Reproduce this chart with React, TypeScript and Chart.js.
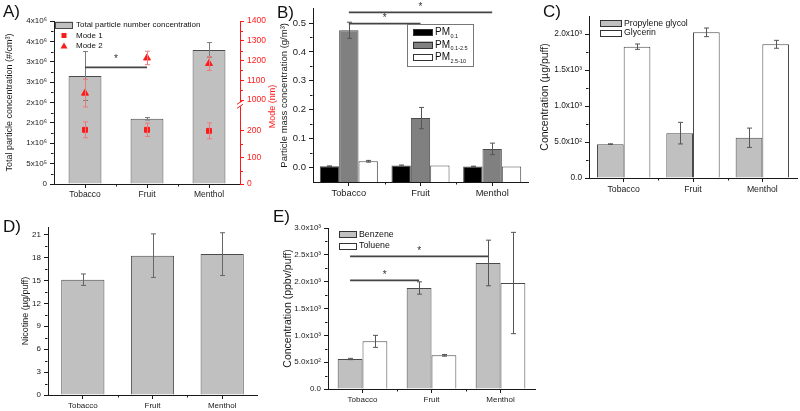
import React, { useEffect, useRef } from 'react';
import { Chart, registerables } from 'chart.js';
Chart.register(...registerables);

const FONT = '"Liberation Sans", Arial, sans-serif';
const GREY = '#c0c0c0';
const DARK = '#808080';
const EDGE = '#4a4a4a';
const RED = '#ff1a1a';
const AXIS = '#1a1a1a';

// ---------- shared ----------
const categories = ['Tobacco', 'Fruit', 'Menthol'];

// ---------- A ----------
const totalParticles = [2.65e6, 1.6e6, 3.29e6];
const totalParticlesErr = [0.6e6, 0.03e6, 0.18e6];
const mode1 = [204, 204, 200];
const mode1Err = [30, 25, 30];
const mode2 = [1035, 1213, 1185];
const mode2Err = [70, 34, 35];
const aLeftTickValues = [0, 5e5, 1e6, 1.5e6, 2e6, 2.5e6, 3e6, 3.5e6, 4e6];
const aLeftTickLabels = ['0', '5x10⁵', '1x10⁶', '2x10⁶', '2x10⁶', '3x10⁶', '3x10⁶', '4x10⁶', '4x10⁶'];
const aRightTicks = [0, 100, 200, 1000, 1100, 1200, 1300, 1400];
const aSig = [{ dataset: 0, from: 0, to: 1, y: 2.86e6 }];

// broken mode axis: 0-250 nm lower segment, 1000-1400 nm upper segment
const modeAxis = (v: number) => (v < 600 ? v : 316 + (v - 1000) * 0.744);

// ---------- B ----------
const pm01 = [0.003, 0.005, 0.002];
const pm01Err = [0.001, 0.002, 0.001];
const pm0125 = [0.475, 0.17, 0.063];
const pm0125Err = [0.028, 0.037, 0.02];
const pm2510 = [0.02, 0.005, 0.002];
const pm2510Err = [0.003, 0, 0];
const bMin = -0.052;
const bTickValues = [0, 0.1, 0.2, 0.3, 0.4, 0.5];
const bTickLabels = ['0.0', '0.1', '0.2', '0.3', '0.4', '0.5'];
const bSig = [
  { dataset: 1, from: 0, to: 2, y: 0.537 },
  { dataset: 1, from: 0, to: 1, y: 0.498 },
];

// ---------- C ----------
const propyleneGlycol = [470, 623, 559];
const propyleneGlycolErr = [5, 150, 134];
const glycerin = [1824, 2023, 1857];
const glycerinErr = [37, 60, 55];
const cTickValues = [0, 500, 1000, 1500, 2000];
const cTickLabels = ['0.0', '5.0x10²', '1.0x10³', '1.5x10³', '2.0x10³'];

// ---------- D ----------
const nicotine = [15.1, 18.25, 18.45];
const nicotineErr = [0.75, 2.85, 2.8];
const dTickValues = [0, 3, 6, 9, 12, 15, 18, 21];
const dTickLabels = ['0', '3', '6', '9', '12', '15', '18', '21'];

// ---------- E ----------
const benzene = [559, 1882, 2348];
const benzeneErr = [12, 115, 425];
const toluene = [888, 627, 1975];
const tolueneErr = [112, 15, 944];
const eTickValues = [0, 500, 1000, 1500, 2000, 2500, 3000];
const eTickLabels = ['0.0', '5.0x10²', '1.0x10³', '1.5x10³', '2.0x10³', '2.5x10³', '3.0x10³'];
const eSig = [
  { dataset: 0, from: 0, to: 2, y: 2472 },
  { dataset: 0, from: 0, to: 1, y: 2025 },
];

// ---------- helpers ----------
function yAxis(o: any) {
  const color = o.color || AXIS;
  return {
    type: 'linear',
    position: o.position || 'left',
    min: o.min,
    max: o.max,
    afterFit: (s: any) => {
      s.width = o.width;
    },
    afterBuildTicks: (s: any) => {
      s.ticks = o.values.map((v: number) => ({ value: v }));
    },
    ticks: {
      callback: (_v: any, i: number) => o.labels[i],
      font: { family: FONT, size: o.tickSize },
      color,
      padding: 3,
      autoSkip: false,
      maxRotation: 0,
    },
    grid: { display: true, drawOnChartArea: false, drawTicks: true, tickLength: 4, color, lineWidth: 1 },
    border: { display: true, color, width: 1 },
    title: o.title
      ? { display: true, text: o.title, font: { family: FONT, size: o.titleSize }, color, padding: { top: 4, bottom: 4 } }
      : { display: false },
  };
}

function xAxis(height: number, size: number) {
  return {
    type: 'category',
    offset: true,
    afterFit: (s: any) => {
      s.height = height;
    },
    grid: { display: true, drawOnChartArea: false, drawTicks: true, tickLength: 4, offset: false, color: AXIS },
    border: { display: true, color: AXIS, width: 1 },
    ticks: { font: { family: FONT, size }, color: AXIS, padding: 2, maxRotation: 0, autoSkip: false },
  };
}

function baseOptions(padding: any, scales: any) {
  return {
    responsive: false,
    animation: false,
    devicePixelRatio: 1,
    events: [],
    layout: { padding },
    plugins: { legend: { display: false }, tooltip: { enabled: false } },
    scales,
  };
}

const errorBars = {
  id: 'errorBars',
  afterDatasetDraw(chart: any, args: any) {
    const ds: any = chart.data.datasets[args.index];
    if (!ds.errors) return;
    const meta = args.meta;
    const ys = chart.scales[meta.yAxisID];
    const map = ds.mapY || ((v: number) => v);
    const ctx = chart.ctx as CanvasRenderingContext2D;
    ctx.save();
    ctx.strokeStyle = ds.errorColor || '#555';
    ctx.lineWidth = 1;
    meta.data.forEach((el: any, i: number) => {
      const v = ds.values ? ds.values[i] : ds.data[i];
      const e = ds.errors[i];
      if (!e) return;
      const x = Math.round(el.x) + 0.5;
      const yt = ys.getPixelForValue(map(v + e));
      const yb = ys.getPixelForValue(map(v - e));
      const c = 2.5;
      ctx.beginPath();
      ctx.moveTo(x, yt);
      ctx.lineTo(x, yb);
      ctx.moveTo(x - c, yt);
      ctx.lineTo(x + c, yt);
      ctx.moveTo(x - c, yb);
      ctx.lineTo(x + c, yb);
      ctx.stroke();
    });
    ctx.restore();
  },
};

const minorTicks = {
  id: 'minorTicks',
  afterDraw(chart: any) {
    const ctx = chart.ctx as CanvasRenderingContext2D;
    ctx.save();
    ctx.lineWidth = 1;
    Object.values(chart.scales).forEach((s: any) => {
      ctx.strokeStyle = s.options.border.color;
      if (s.axis === 'y') {
        const px = s.ticks.map((t: any) => s.getPixelForValue(t.value));
        const diffs = px.slice(1).map((p: number, i: number) => Math.abs(p - px[i]));
        const minD = Math.min(...diffs);
        const left = s.position === 'left';
        const xe = left ? Math.round(s.right) - 0.5 : Math.round(s.left) + 0.5;
        const dir = left ? -1 : 1;
        diffs.forEach((d: number, i: number) => {
          if (d > minD * 1.45) return;
          const y = Math.round((px[i] + px[i + 1]) / 2) + 0.5;
          ctx.beginPath();
          ctx.moveTo(xe, y);
          ctx.lineTo(xe + dir * 2.5, y);
          ctx.stroke();
        });
      } else {
        const n = chart.data.labels.length;
        for (let i = 0; i < n - 1; i++) {
          const x = Math.round((s.getPixelForValue(i) + s.getPixelForValue(i + 1)) / 2) + 0.5;
          ctx.beginPath();
          ctx.moveTo(x, s.top);
          ctx.lineTo(x, s.top + 2.5);
          ctx.stroke();
        }
      }
    });
    ctx.restore();
  },
};

function sigPlugin(lines: any[], starLift: number) {
  return {
    id: 'sig',
    afterDatasetsDraw(chart: any) {
      const ctx = chart.ctx as CanvasRenderingContext2D;
      const ys = chart.scales.y;
      ctx.save();
      lines.forEach((l) => {
        const meta = chart.getDatasetMeta(l.dataset);
        const x1 = meta.data[l.from].x;
        const x2 = meta.data[l.to].x;
        const y = ys.getPixelForValue(l.y);
        ctx.strokeStyle = '#444';
        ctx.lineWidth = 1.8;
        ctx.beginPath();
        ctx.moveTo(x1, y);
        ctx.lineTo(x2, y);
        ctx.stroke();
        ctx.fillStyle = '#333';
        ctx.font = `10px ${FONT}`;
        ctx.textAlign = 'center';
        ctx.textBaseline = 'alphabetic';
        ctx.fillText('*', (x1 + x2) / 2, y - starLift);
      });
      ctx.restore();
    },
  };
}

function legendPlugin(spec: any) {
  return {
    id: 'boxLegend',
    afterDraw(chart: any) {
      const ctx = chart.ctx as CanvasRenderingContext2D;
      ctx.save();
      if (spec.border) {
        const [bx, by, bw, bh] = spec.border;
        ctx.strokeStyle = '#777';
        ctx.lineWidth = 1;
        ctx.strokeRect(bx + 0.5, by + 0.5, bw, bh);
      }
      spec.items.forEach((it: any, i: number) => {
        const cy = spec.y + i * spec.rowH;
        const x = spec.x;
        const cx = x + spec.boxW / 2;
        if (it.kind === 'box') {
          ctx.fillStyle = it.fill;
          ctx.fillRect(x, cy - spec.boxH / 2, spec.boxW, spec.boxH);
          ctx.strokeStyle = it.stroke;
          ctx.lineWidth = 1;
          ctx.strokeRect(x + 0.5, Math.round(cy - spec.boxH / 2) + 0.5, spec.boxW - 1, spec.boxH - 1);
        } else if (it.kind === 'square') {
          ctx.fillStyle = it.fill;
          ctx.fillRect(cx - 2.5, cy - 2.5, 5, 5);
        } else if (it.kind === 'triangle') {
          ctx.fillStyle = it.fill;
          ctx.beginPath();
          ctx.moveTo(cx, cy - 3.5);
          ctx.lineTo(cx + 3.5, cy + 2.5);
          ctx.lineTo(cx - 3.5, cy + 2.5);
          ctx.closePath();
          ctx.fill();
        }
        ctx.fillStyle = '#111';
        ctx.font = `${spec.size}px ${FONT}`;
        ctx.textAlign = 'left';
        ctx.textBaseline = 'middle';
        const tx = x + spec.boxW + spec.gap;
        ctx.fillText(it.label, tx, cy);
        if (it.sub) {
          const w = ctx.measureText(it.label).width;
          ctx.font = `${spec.subSize}px ${FONT}`;
          ctx.fillText(it.sub, tx + w + 0.5, cy + spec.size * 0.38);
        }
      });
      ctx.restore();
    },
  };
}

const modeDecor = {
  id: 'modeDecor',
  afterDraw(chart: any) {
    const ctx = chart.ctx as CanvasRenderingContext2D;
    const { right, top, bottom } = chart.chartArea;
    const y1 = chart.scales.y1;
    const yb = y1.getPixelForValue(300);
    ctx.save();
    ctx.fillStyle = '#fff';
    ctx.fillRect(right - 1, yb - 2, 3, 4);
    ctx.strokeStyle = RED;
    ctx.lineWidth = 1;
    [-2, 2].forEach((dy) => {
      ctx.beginPath();
      ctx.moveTo(right - 3, yb + dy + 2);
      ctx.lineTo(right + 3, yb + dy - 2);
      ctx.stroke();
    });
    ctx.translate(273, (top + bottom) / 2 + 4);
    ctx.rotate(-Math.PI / 2);
    ctx.fillStyle = RED;
    ctx.font = `9px ${FONT}`;
    ctx.textAlign = 'center';
    ctx.textBaseline = 'middle';
    ctx.fillText('Mode (nm)', 0, 0);
    ctx.restore();
  },
};

// ---------- builders ----------
function buildA(): any {
  return {
    type: 'bar',
    data: {
      labels: categories,
      datasets: [
        {
          type: 'bar',
          label: 'Total particle number concentration',
          data: totalParticles,
          errors: totalParticlesErr,
          errorColor: '#7a7a7a',
          backgroundColor: GREY,
          borderColor: EDGE,
          borderWidth: 1,
          barPercentage: 0.53,
          categoryPercentage: 1,
          yAxisID: 'y',
          order: 3,
        },
        {
          type: 'line',
          label: 'Mode 1',
          data: mode1.map(modeAxis),
          values: mode1,
          errors: mode1Err,
          mapY: modeAxis,
          errorColor: '#f07a7a',
          showLine: false,
          pointStyle: 'rect',
          pointRadius: 3.5,
          backgroundColor: RED,
          borderColor: RED,
          yAxisID: 'y1',
          order: 1,
        },
        {
          type: 'line',
          label: 'Mode 2',
          data: mode2.map(modeAxis),
          values: mode2,
          errors: mode2Err,
          mapY: modeAxis,
          errorColor: '#f07a7a',
          showLine: false,
          pointStyle: 'triangle',
          pointRadius: 4,
          backgroundColor: RED,
          borderColor: RED,
          yAxisID: 'y1',
          order: 2,
        },
      ],
    },
    options: baseOptions(
      { top: 21, right: 0, bottom: 0, left: 0 },
      {
        x: xAxis(21, 8.5),
        y: yAxis({
          width: 54, min: 0, max: 4e6, values: aLeftTickValues, labels: aLeftTickLabels,
          tickSize: 8, title: 'Total particle concentration (#/cm³)', titleSize: 9,
        }),
        y1: yAxis({
          width: 43, position: 'right', min: 0, max: modeAxis(1400), values: aRightTicks.map(modeAxis),
          labels: aRightTicks.map(String), tickSize: 8.5, color: RED,
        }),
      }
    ),
    plugins: [
      errorBars,
      minorTicks,
      sigPlugin(aSig, 5),
      modeDecor,
      legendPlugin({
        x: 55, y: 25, rowH: 10.5, boxW: 18, boxH: 7, gap: 3, size: 8,
        items: [
          { label: 'Total particle number concentration', kind: 'box', fill: GREY, stroke: EDGE },
          { label: 'Mode 1', kind: 'square', fill: RED },
          { label: 'Mode 2', kind: 'triangle', fill: RED },
        ],
      }),
    ],
  };
}

function buildB(): any {
  const bar = (label: string, data: number[], errors: number[], fill: string) => ({
    label, data, errors, base: bMin, backgroundColor: fill, borderColor: EDGE, borderWidth: 1,
    barPercentage: 1, categoryPercentage: 0.81,
  });
  return {
    type: 'bar',
    data: {
      labels: categories,
      datasets: [
        bar('PM0.1', pm01, pm01Err, '#000'),
        bar('PM0.1-2.5', pm0125, pm0125Err, DARK),
        bar('PM2.5-10', pm2510, pm2510Err, '#fff'),
      ],
    },
    options: baseOptions(
      { top: 6, right: 8, bottom: 0, left: 0 },
      {
        x: xAxis(18, 9.3),
        y: yAxis({
          width: 38, min: bMin, max: 0.55, values: bTickValues, labels: bTickLabels,
          tickSize: 9.5, title: 'Particle mass concentration (g/m³)', titleSize: 9.5,
        }),
      }
    ),
    plugins: [
      errorBars,
      minorTicks,
      sigPlugin(bSig, 2.5),
      legendPlugin({
        x: 138, y: 32.5, rowH: 12.5, boxW: 20, boxH: 7, gap: 2, size: 10, subSize: 5.5,
        border: [132, 24, 66, 42],
        items: [
          { label: 'PM', sub: '0.1', kind: 'box', fill: '#000', stroke: '#333' },
          { label: 'PM', sub: '0.1-2.5', kind: 'box', fill: DARK, stroke: '#333' },
          { label: 'PM', sub: '2.5-10', kind: 'box', fill: '#fff', stroke: '#333' },
        ],
      }),
    ],
  };
}

function buildC(): any {
  const bar = (label: string, data: number[], errors: number[], fill: string) => ({
    label, data, errors, backgroundColor: fill, borderColor: EDGE, borderWidth: 1,
    barPercentage: 1, categoryPercentage: 0.77,
  });
  return {
    type: 'bar',
    data: {
      labels: categories,
      datasets: [
        bar('Propylene glycol', propyleneGlycol, propyleneGlycolErr, GREY),
        bar('Glycerin', glycerin, glycerinErr, '#fff'),
      ],
    },
    options: baseOptions(
      { top: 16, right: 3, bottom: 0, left: 0 },
      {
        x: xAxis(22, 8.7),
        y: yAxis({
          width: 54, min: 0, max: 2250, values: cTickValues, labels: cTickLabels,
          tickSize: 8.3, title: 'Concentration (µg/puff)', titleSize: 10.5,
        }),
      }
    ),
    plugins: [
      errorBars,
      minorTicks,
      legendPlugin({
        x: 65, y: 23.5, rowH: 9.5, boxW: 22, boxH: 7, gap: 2, size: 8.7,
        items: [
          { label: 'Propylene glycol', kind: 'box', fill: GREY, stroke: '#333' },
          { label: 'Glycerin', kind: 'box', fill: '#fff', stroke: '#333' },
        ],
      }),
    ],
  };
}

function buildD(): any {
  return {
    type: 'bar',
    data: {
      labels: categories,
      datasets: [
        {
          label: 'Nicotine', data: nicotine, errors: nicotineErr, errorColor: '#666',
          backgroundColor: GREY, borderColor: EDGE, borderWidth: 1,
          barPercentage: 0.62, categoryPercentage: 1,
        },
      ],
    },
    options: baseOptions(
      { top: 22, right: 9, bottom: 0, left: 0 },
      {
        x: xAxis(16, 8),
        y: yAxis({
          width: 32, min: 0, max: 22, values: dTickValues, labels: dTickLabels,
          tickSize: 8, title: 'Nicotine (µg/puff)', titleSize: 9,
        }),
      }
    ),
    plugins: [errorBars, minorTicks],
  };
}

function buildE(): any {
  const bar = (label: string, data: number[], errors: number[], fill: string) => ({
    label, data, errors, backgroundColor: fill, borderColor: EDGE, borderWidth: 1,
    barPercentage: 1, categoryPercentage: 0.72,
  });
  return {
    type: 'bar',
    data: {
      labels: categories,
      datasets: [
        bar('Benzene', benzene, benzeneErr, GREY),
        bar('Toluene', toluene, tolueneErr, '#fff'),
      ],
    },
    options: baseOptions(
      { top: 23, right: 5, bottom: 0, left: 0 },
      {
        x: xAxis(22, 8),
        y: yAxis({
          width: 50, min: 0, max: 3000, values: eTickValues, labels: eTickLabels,
          tickSize: 8, title: 'Concentration (ppbv/puff)', titleSize: 10.5,
        }),
      }
    ),
    plugins: [
      errorBars,
      minorTicks,
      sigPlugin(eSig, 2.5),
      legendPlugin({
        x: 61, y: 29.5, rowH: 11.5, boxW: 18, boxH: 7, gap: 2, size: 8.8,
        items: [
          { label: 'Benzene', kind: 'box', fill: GREY, stroke: '#333' },
          { label: 'Toluene', kind: 'box', fill: '#fff', stroke: '#333' },
        ],
      }),
    ],
  };
}

function Panel(props: { left: number; top: number; width: number; height: number; build: () => any }) {
  const ref = useRef<HTMLCanvasElement>(null);
  useEffect(() => {
    const chart = new Chart(ref.current as HTMLCanvasElement, props.build());
    return () => chart.destroy();
  }, []);
  return (
    <canvas
      ref={ref}
      width={props.width}
      height={props.height}
      style={{ position: 'absolute', left: props.left, top: props.top, width: props.width, height: props.height }}
    />
  );
}

const letterStyle = (left: number, top: number): React.CSSProperties => ({
  position: 'absolute',
  left,
  top,
  fontFamily: FONT,
  fontSize: 17,
  lineHeight: '17px',
  color: '#111',
});

export default function App() {
  return (
    <div style={{ position: 'fixed', left: 0, top: 0, width: 800, height: 411, background: '#fff', overflow: 'hidden' }}>
      <Panel left={0} top={0} width={283} height={205} build={buildA} />
      <Panel left={275} top={0} width={261} height={200} build={buildB} />
      <Panel left={535} top={0} width={265} height={200} build={buildC} />
      <Panel left={16} top={205} width={250} height={206} build={buildD} />
      <Panel left={278} top={205} width={262} height={206} build={buildE} />
      <div style={letterStyle(3, 3)}>A)</div>
      <div style={letterStyle(277, 4)}>B)</div>
      <div style={letterStyle(543, 3)}>C)</div>
      <div style={letterStyle(3, 218)}>D)</div>
      <div style={letterStyle(273, 208)}>E)</div>
    </div>
  );
}
